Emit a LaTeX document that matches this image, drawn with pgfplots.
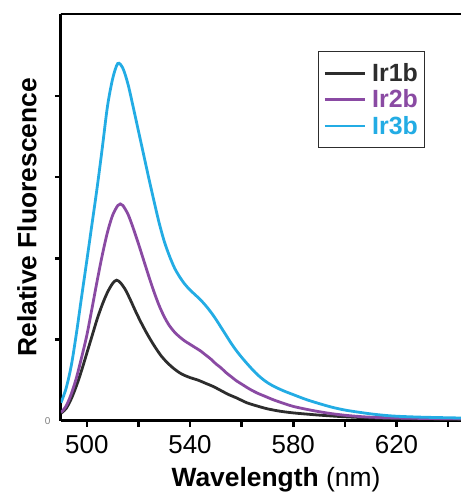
\documentclass[border=0pt]{standalone}
\usepackage{fontspec}
\setmainfont{Liberation Sans}
\usepackage{pgfplots}
\pgfplotsset{compat=1.18}
\definecolor{cA}{RGB}{45,45,45}
\definecolor{cB}{RGB}{138,74,163}
\definecolor{cC}{RGB}{35,172,228}
\newcommand{\lblfont}{\fontsize{26.5}{26.5}\selectfont}
\newcommand{\tickfont}{\fontsize{26}{26}\selectfont}
\newcommand{\legfont}{\fontsize{25}{25}\selectfont}
\begin{document}
\begin{tikzpicture}
\useasboundingbox (-61bp,-72.4bp) rectangle (400bp,420.6bp);
\begin{axis}[
  at={(0,0)}, anchor=south west,
  scale only axis, width=400bp, height=406.6bp,
  xmin=490, xmax=645, ymin=0, ymax=5.01,
  axis x line*=bottom, axis y line*=left,
  axis line style={line width=3bp, black, -},
  xtick={500,540,580,620}, minor xtick={520,560,600,640},
  ytick={1,2,3,4}, yticklabels={},
  extra y ticks={0}, extra y tick labels={0},
  extra y tick style={major tick length=0pt, yticklabel style={text=gray, font=\fontsize{10}{10}\selectfont, xshift=-7bp}},
  tick align=outside, major tick length=6bp, minor tick length=6bp,
  every tick/.style={black, line width=2.6bp},
  /pgf/number format/assume math mode=true,
  xticklabel style={font=\tickfont, yshift=-5bp},
  xlabel={\textbf{Wavelength} (nm)},
  xlabel style={at={(axis description cs:0.5375,0)}, anchor=base, yshift=-65.4bp, font=\lblfont},
  ylabel={\textbf{Relative Fluorescence}},
  ylabel style={at={(axis description cs:-0.085,0.5)}, anchor=center, font=\lblfont},
  legend style={at={(axis description cs:0.6425,0.909)}, anchor=north west, draw=cA, line width=1.2bp,
    font=\bfseries\legfont, inner xsep=5bp, inner ysep=10bp, row sep=2.8bp,
    nodes={inner sep=2bp},
    /tikz/every odd column/.append style={column sep=4bp}},
  legend cell align=left,
  legend image code/.code={\draw[#1, line width=2.6bp] (0bp,0bp) -- (40bp,0bp);},
  every axis plot/.append style={line width=2.8bp, smooth},
]
\addplot[cA] coordinates {
(490,0.09)(492,0.15)(494,0.27)(496,0.43)(498,0.62)(500,0.83)(502,1.04)(504,1.25)(506,1.43)(508,1.58)(510,1.69)(511.5,1.73)(513,1.70)(515,1.61)(517,1.48)(519,1.34)(521,1.21)(523,1.09)(525,0.98)(527,0.88)(529,0.79)(531,0.72)(533,0.66)(535,0.61)(537,0.57)(540,0.53)(543,0.50)(546,0.46)(549,0.42)(552,0.37)(555,0.32)(558,0.28)(562,0.22)(566,0.18)(570,0.145)(575,0.115)(580,0.095)(586,0.078)(592,0.063)(600,0.047)(610,0.033)(620,0.024)(645,0.015)};
\addlegendentry{\textcolor{cA}{Ir1b}}
\addplot[cB] coordinates {
(490,0.10)(492,0.18)(494,0.33)(496,0.53)(498,0.78)(500,1.05)(502,1.38)(504,1.72)(506,2.04)(508,2.32)(510,2.53)(512,2.65)(513,2.67)(514,2.65)(516,2.54)(518,2.37)(520,2.18)(522,1.98)(524,1.78)(526,1.59)(528,1.42)(530,1.28)(532,1.17)(534,1.09)(536,1.03)(538,0.98)(540,0.94)(542,0.90)(544,0.86)(546,0.81)(548,0.76)(550,0.70)(552,0.65)(554,0.59)(556,0.54)(558,0.49)(560,0.45)(563,0.39)(566,0.34)(569,0.30)(572,0.26)(576,0.215)(580,0.175)(585,0.14)(590,0.11)(595,0.085)(600,0.066)(605,0.052)(610,0.042)(620,0.032)(630,0.027)(645,0.022)};
\addlegendentry{\textcolor{cB}{Ir2b}}
\addplot[cC] coordinates {
(490,0.22)(492,0.40)(494,0.68)(496,1.08)(498,1.53)(500,1.97)(502,2.42)(504,2.87)(506,3.36)(508,3.87)(510,4.21)(512,4.40)(514,4.34)(516,4.14)(518,3.86)(520,3.57)(522,3.28)(524,2.99)(526,2.71)(528,2.44)(530,2.21)(532,2.03)(534,1.88)(536,1.77)(538,1.68)(540,1.61)(542,1.55)(544,1.49)(546,1.42)(548,1.34)(550,1.25)(552,1.15)(554,1.05)(556,0.95)(558,0.86)(560,0.78)(563,0.67)(566,0.57)(569,0.49)(572,0.43)(576,0.37)(580,0.32)(585,0.26)(590,0.21)(595,0.165)(600,0.13)(605,0.105)(610,0.083)(615,0.066)(620,0.054)(630,0.042)(645,0.032)};
\addlegendentry{\textcolor{cC}{Ir3b}}
\draw[line width=3bp, black] (axis description cs:0,1) ++(-6bp,0) -- (axis description cs:1,1);
\end{axis}
\end{tikzpicture}
\end{document}
